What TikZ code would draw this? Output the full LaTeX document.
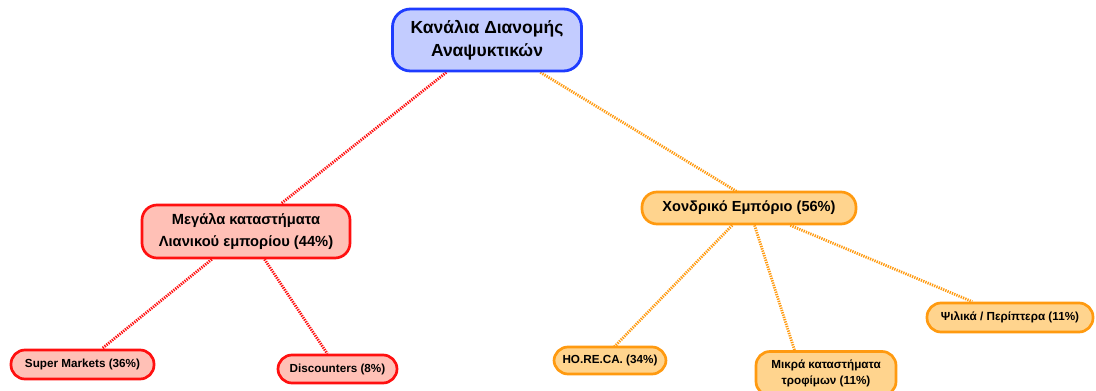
\documentclass[tikz,border=0pt]{standalone}
\usepackage{fontspec}
\setmainfont{Liberation Sans}
\definecolor{rootfill}{HTML}{C3CCFF}
\definecolor{rootdraw}{HTML}{1E3CFF}
\definecolor{redfill}{HTML}{FFC0B6}
\definecolor{reddraw}{HTML}{FF1010}
\definecolor{orfill}{HTML}{FFD48E}
\definecolor{ordraw}{HTML}{FF9A10}
\pgfdeclarelayer{background}
\pgfsetlayers{background,main}
\tikzset{
  box/.style={draw, align=center, inner sep=0pt, font=\bfseries},
  rootbox/.style={box, fill=rootfill, draw=rootdraw, line width=2.8pt, rounded corners=18pt,
    font=\fontsize{17.5}{23.5}\selectfont\bfseries},
  redmid/.style={box, fill=redfill, draw=reddraw, line width=2.7pt, rounded corners=15pt,
    font=\fontsize{14.7}{22}\selectfont\bfseries},
  ormid/.style={box, fill=orfill, draw=ordraw, line width=2.7pt, rounded corners=15pt,
    font=\fontsize{14.6}{22}\selectfont\bfseries},
  redleaf/.style={box, fill=redfill, draw=reddraw, line width=2.7pt, rounded corners=14pt,
    font=\fontsize{11.7}{16.5}\selectfont\bfseries},
  orleaf/.style={box, fill=orfill, draw=ordraw, line width=2.7pt, rounded corners=14pt,
    font=\fontsize{11.7}{16.5}\selectfont\bfseries},
  redlink/.style={draw=reddraw, line width=2.8pt, dash pattern=on 1.3pt off 1.1pt},
  orlink/.style={draw=ordraw, line width=2.8pt, dash pattern=on 1.3pt off 1.1pt},
}
\begin{document}
\begin{tikzpicture}[x=1pt,y=1pt]
\useasboundingbox (0,0) rectangle (1096,-391);
\node[rootbox, minimum width=189pt, minimum height=62pt] (root) at (487,-40) {Κανάλια Διανομής\\Αναψυκτικών};
\node[redmid, minimum width=208pt, minimum height=53pt] (retail) at (246,-231.5) {Μεγάλα καταστήματα\\Λιανικού εμπορίου (44\%)};
\node[ormid, minimum width=214pt, minimum height=32pt] (whole) at (749,-208) {Χονδρικό Εμπόριο (56\%)};
\node[redleaf, minimum width=143pt, minimum height=29pt] (sm) at (82.5,-364.5) {Super Markets (36\%)};
\node[redleaf, minimum width=119pt, minimum height=28pt] (disc) at (337.5,-369) {Discounters (8\%)};
\node[orleaf, minimum width=112pt, minimum height=27pt] (horeca) at (610,-360.5) {HO.RE.CA. (34\%)};
\node[orleaf, minimum width=140pt, minimum height=44pt] (mikra) at (826,-373.5) {Μικρά καταστήματα\\τροφίμων (11\%)};
\node[orleaf, minimum width=166pt, minimum height=29pt] (psil) at (1010,-317.5) {Ψιλικά / Περίπτερα (11\%)};
\begin{pgfonlayer}{background}
\path[redlink] (root) -- (retail);
\path[orlink] (root) -- ([xshift=15pt]whole.center);
\path[redlink] (retail) -- (sm);
\path[redlink] (retail) -- (disc);
\path[orlink] (whole) -- ([xshift=-9pt]horeca.center);
\path[orlink] (whole) -- ([xshift=-24pt]mikra.center);
\path[orlink] (whole) -- (psil);
\end{pgfonlayer}
\end{tikzpicture}
\end{document}
